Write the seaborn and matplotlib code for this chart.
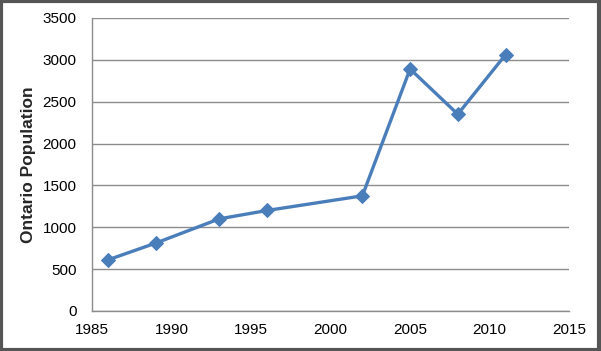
import matplotlib
matplotlib.use('Agg')
import matplotlib.pyplot as plt
import seaborn as sns
import pandas as pd
from matplotlib.patches import Rectangle

# Data
years = [1986, 1989, 1993, 1996, 2002, 2005, 2008, 2011]
population = [610, 810, 1100, 1200, 1375, 2890, 2350, 3060]
x_ticks = [1985, 1990, 1995, 2000, 2005, 2010, 2015]
y_ticks = [0, 500, 1000, 1500, 2000, 2500, 3000, 3500]

df = pd.DataFrame({'Year': years, 'Population': population})

sns.set_style('white')
plt.rcParams['font.family'] = ['Liberation Sans', 'DejaVu Sans']

fig = plt.figure(figsize=(6.01, 3.51), dpi=100)
ax = fig.add_axes([0.153, 0.114, 0.794, 0.835])

sns.lineplot(data=df, x='Year', y='Population', ax=ax, color='#4a7ebb',
             linewidth=2.4, marker='D', markersize=7.5, markeredgecolor='#4a7ebb')

ax.set_xlim(1985, 2015)
ax.set_ylim(0, 3500)
ax.set_xticks(x_ticks)
ax.set_yticks(y_ticks)
ax.yaxis.grid(True, color='#8c8c8c', linewidth=1)
ax.set_axisbelow(True)

for side in ['top', 'right']:
    ax.spines[side].set_visible(False)
for side in ['left', 'bottom']:
    ax.spines[side].set_color('#8c8c8c')
    ax.spines[side].set_linewidth(1)

ax.tick_params(axis='both', direction='out', length=5, width=1, color='#8c8c8c',
               labelsize=11, labelcolor='black')
ax.tick_params(axis='x', pad=4)
ax.tick_params(axis='y', pad=6)

ax.set_xlabel('')
ax.set_ylabel('Ontario Population', fontsize=12.5, fontweight='bold', labelpad=5)

# outer chart border
fig.patches.append(Rectangle((0.002, 0.003), 0.995, 0.993, transform=fig.transFigure,
                             fill=False, edgecolor='#555555', linewidth=3))

plt.savefig('out.png', dpi=100)
plt.close()
